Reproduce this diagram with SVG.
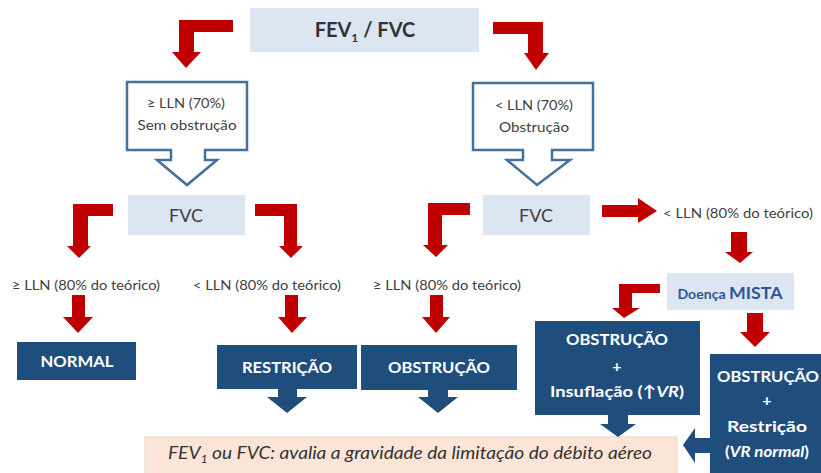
<svg xmlns="http://www.w3.org/2000/svg" width="821" height="473" viewBox="0 0 821 473">
<style>
text{font-family:Lato,"Open Sans","Liberation Sans",sans-serif;}
.lb{fill:#dce6f2;}
.dk{fill:#1f4e7d;}
.red{fill:#c00000;}
.barr{fill:#1f4e7d;}
.t1{font-size:14px;fill:#404040;text-anchor:middle;}
.t3{font-size:13.5px;fill:#404040;text-anchor:middle;}
.t2{font-size:18px;fill:#404040;text-anchor:middle;}
.wt{font-size:16px;font-weight:bold;fill:#ffffff;text-anchor:middle;}
.call{fill:#ffffff;stroke:#41719c;stroke-width:2.5;stroke-linejoin:miter;}
</style>
<g id="n-root">
<rect x="250" y="8" width="229" height="44" class="lb"/>
<text x="365" y="37" font-size="20" font-weight="bold" fill="#333" text-anchor="middle">FEV<tspan font-size="12" dy="5">1</tspan><tspan dy="-5"> / FVC</tspan></text>
</g>
<g id="n-sem">
<path class="call" d="M127,82 H247 V150 H205 V160 H217 L187,185 L157,160 H171 V150 H127 Z"/>
<text class="t1" x="186" y="108" textLength="78" lengthAdjust="spacingAndGlyphs">≥ LLN (70%)</text>
<text class="t1" x="187" y="130" textLength="99" lengthAdjust="spacingAndGlyphs">Sem obstrução</text>
</g>
<g id="n-obs">
<path class="call" d="M473,83 H593 V150 H552 V160 H570 L537,185 L507,160 H523 V150 H473 Z"/>
<text class="t1" x="534" y="110" textLength="78" lengthAdjust="spacingAndGlyphs">&lt; LLN (70%)</text>
<text class="t1" x="534" y="132" textLength="70" lengthAdjust="spacingAndGlyphs">Obstrução</text>
</g>
<g id="n-fvc1">
<rect x="128" y="195" width="117" height="40" class="lb"/>
<text class="t2" x="186" y="222">FVC</text>
</g>
<g id="n-fvc2">
<rect x="483" y="195" width="107" height="40" class="lb"/>
<text class="t2" x="536" y="222">FVC</text>
</g>
<g id="n-l1">
<text class="t3" x="86" y="290" textLength="148" lengthAdjust="spacingAndGlyphs">≥ LLN (80% do teórico)</text>
</g>
<g id="n-l2">
<text class="t3" x="267" y="290" textLength="148" lengthAdjust="spacingAndGlyphs">&lt; LLN (80% do teórico)</text>
</g>
<g id="n-l3">
<text class="t3" x="447" y="290" textLength="148" lengthAdjust="spacingAndGlyphs">≥ LLN (80% do teórico)</text>
</g>
<g id="n-l4">
<text x="663" y="218" font-size="13.5" fill="#404040" textLength="150" lengthAdjust="spacingAndGlyphs">&lt;  LLN (80% do teórico)</text>
</g>
<g id="n-mista">
<rect x="667" y="273" width="127" height="37" class="lb"/>
<text x="730" y="299" text-anchor="middle" fill="#2f5597" font-weight="bold" textLength="105" lengthAdjust="spacingAndGlyphs"><tspan font-size="13.5">Doença </tspan><tspan font-size="17">MISTA</tspan></text>
</g>
<g id="n-normal">
<rect x="17" y="342" width="119" height="38" class="dk"/>
<text class="wt" x="77" y="367" textLength="73" lengthAdjust="spacingAndGlyphs">NORMAL</text>
</g>
<g id="n-restr">
<rect x="217" y="345" width="140" height="44" class="dk"/>
<text class="wt" x="287" y="373" textLength="90" lengthAdjust="spacingAndGlyphs">RESTRIÇÃO</text>
</g>
<g id="n-obstr">
<rect x="361" y="345" width="156" height="45" class="dk"/>
<text class="wt" x="439" y="373" textLength="102" lengthAdjust="spacingAndGlyphs">OBSTRUÇÃO</text>
</g>
<g id="n-insufl">
<rect x="535" y="321" width="165" height="94" class="dk"/>
<text class="wt" x="617" y="345" textLength="102" lengthAdjust="spacingAndGlyphs">OBSTRUÇÃO</text>
<text class="wt" x="617" y="372">+</text>
<text class="wt" x="617" y="397" textLength="134" lengthAdjust="spacingAndGlyphs">Insuflação (↑<tspan font-style="italic">VR</tspan>)</text>
</g>
<g id="n-restr2">
<rect x="710" y="354" width="115" height="125" class="dk"/>
<text class="wt" x="768" y="382" textLength="102" lengthAdjust="spacingAndGlyphs">OBSTRUÇÃO</text>
<text class="wt" x="767" y="406">+</text>
<text class="wt" x="767" y="432" textLength="80" lengthAdjust="spacingAndGlyphs">Restrição</text>
<text class="wt" x="767" y="457" textLength="84" lengthAdjust="spacingAndGlyphs">(<tspan font-style="italic">VR normal</tspan>)</text>
</g>
<g id="n-grav">
<rect x="145" y="437" width="532" height="40" fill="#fce4d6" stroke="#e6d5c8" stroke-width="1"/>
<text x="410" y="459" font-size="17" font-style="italic" fill="#333" text-anchor="middle" textLength="484" lengthAdjust="spacingAndGlyphs">FEV<tspan font-size="11" dy="4">1</tspan><tspan dy="-4"> ou FVC: avalia a gravidade da limitação do débito aéreo</tspan></text>
</g>
<g id="connectors">
<path class="red" d="M233,20 V32 H194 V52 H201 L186,68 L172,52 H179 V20 Z"/>
<path class="red" d="M493,22 H543 V53 H549 L536,70 L524,53 H528 V34 H493 Z"/>
<path class="red" d="M113,204 V216 H88 V246 H91 L79,258 L67,246 H73 V204 Z"/>
<path class="red" d="M255,204 H297 V246 H303 L291,258 L279,246 H284 V216 H255 Z"/>
<path class="red" d="M470,203 V215 H442 V245 H448 L436,257 L423,245 H428 V203 Z"/>
<path class="red" d="M602,205 H638 V198 L657,211 L638,223 V217 H602 Z"/>
<path class="red" d="M731,232 H747 V252 H753 L740,263 L725,252 H731 Z"/>
<path class="red" d="M72,295 H85 V317 H93 L78,333 L63,317 H72 Z"/>
<path class="red" d="M285,295 H298 V317 H307 L292,333 L278,317 H285 Z"/>
<path class="red" d="M430,295 H443 V317 H450 L436,333 L422,317 H430 Z"/>
<path class="red" d="M660,284 V293 H632 V308 H640 L624,318 L612,308 H619 V284 Z"/>
<path class="red" d="M747,313 H763 V332 H770 L755,347 L740,332 H747 Z"/>
<path class="barr" d="M278,389 H297 V397 H307 L287,413 L267,397 H278 Z"/>
<path class="barr" d="M428,390 H448 V397 H458 L438,413 L418,397 H428 Z"/>
<path class="barr" d="M608,415 H628 V424 H636 L618,437 L600,424 H608 Z"/>
<path class="barr" d="M710,438 V453 H695 V463 L683,445 L695,428 V438 Z"/>
</g>
</svg>
